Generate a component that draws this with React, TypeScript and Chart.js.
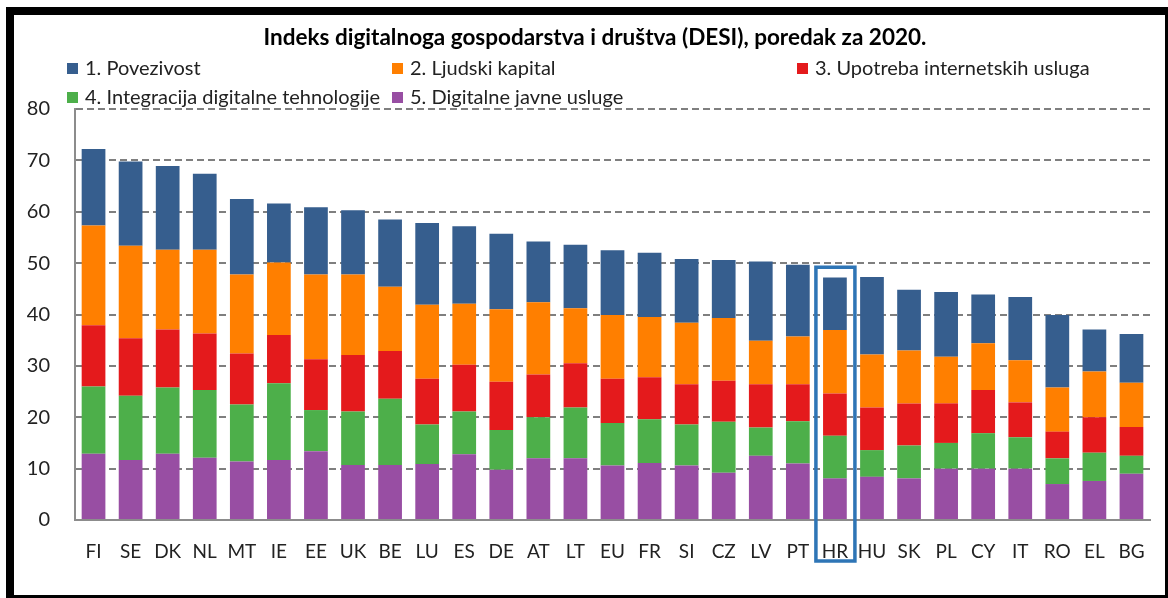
import React, { useEffect, useRef } from "react";
import { Chart, registerables } from "chart.js";

Chart.register(...registerables);

const categories = ["FI","SE","DK","NL","MT","IE","EE","UK","BE","LU","ES","DE","AT","LT","EU","FR","SI","CZ","LV","PT","HR","HU","SK","PL","CY","IT","RO","EL","BG"];

const povezivost = [14.9,16.4,16.3,14.8,14.7,11.5,13.1,12.5,13.1,15.9,15.1,14.7,11.8,12.4,12.6,12.5,12.4,11.3,15.4,14.0,10.2,15.1,11.8,12.6,9.5,12.3,14.1,8.2,9.5];
const ljudskiKapital = [19.4,18.0,15.5,16.3,15.4,14.1,16.5,15.7,12.5,14.4,11.9,14.1,14.1,10.7,12.4,11.7,12.0,12.2,8.5,9.3,12.4,10.3,10.3,9.1,9.1,8.2,8.6,8.9,8.6];
const upotreba = [11.9,11.2,11.3,11.0,9.9,9.4,9.9,11.0,9.3,8.9,9.1,9.4,8.3,8.6,8.6,8.2,7.8,8.0,8.4,7.2,8.2,8.3,8.2,7.7,8.4,6.8,5.2,6.9,5.6];
const integracija = [13.1,12.5,12.9,13.2,11.1,14.9,8.0,10.4,12.9,7.7,8.3,7.7,8.0,9.9,8.3,8.5,8.0,9.9,5.5,8.2,8.3,5.2,6.4,5.0,6.9,6.1,5.0,5.5,3.5];
const javneUsluge = [12.9,11.7,12.9,12.1,11.4,11.7,13.4,10.7,10.7,10.9,12.8,9.8,12.0,12.0,10.6,11.1,10.6,9.2,12.5,11.0,8.1,8.4,8.1,10.0,10.0,10.0,7.0,7.6,9.0];

const seriesLabels = [
  "1. Povezivost",
  "2. Ljudski kapital",
  "3. Upotreba internetskih usluga",
  "4. Integracija digitalne tehnologije",
  "5. Digitalne javne usluge",
];
const seriesColors = ["#365E8E", "#FF7F00", "#E41A1C", "#4DAF4A", "#984EA3"];

const titleText = "Indeks digitalnoga gospodarstva i društva (DESI), poredak za 2020.";
const highlightCategory = "HR";
const highlightTopValue = 49.2;

const FONT = "Lato, 'Open Sans', sans-serif";

const decorPlugin = {
  id: "decor",
  afterDraw(chart: any) {
    const ctx = chart.ctx;
    const W = chart.width;
    const H = chart.height;
    ctx.save();
    // frame
    ctx.fillStyle = "#000";
    ctx.fillRect(6, 7, W - 6, 8);
    ctx.fillRect(6, 7, 8, H - 7);
    ctx.fillRect(6, H - 3, W - 6, 3);
    ctx.fillRect(W - 3, 7, 3, H - 7);

    // title
    ctx.fillStyle = "#000";
    ctx.font = `bold 22.5px ${FONT}`;
    ctx.textAlign = "center";
    ctx.textBaseline = "middle";
    ctx.fillText(titleText, 595, 38);

    // legend
    const pos = [
      [67, 68], [392, 68], [797, 68],
      [67, 97], [392, 97],
    ];
    ctx.font = `20px ${FONT}`;
    ctx.textAlign = "left";
    seriesLabels.forEach((lab, i) => {
      const [x, y] = pos[i];
      ctx.fillStyle = seriesColors[i];
      ctx.fillRect(x, y - 5, 11, 11);
      ctx.fillStyle = "#222";
      ctx.fillText(lab, x + 18, y + 1);
    });

    // highlight box
    const xs = chart.scales.x;
    const ys = chart.scales.y;
    const idx = categories.indexOf(highlightCategory);
    const cx = xs.getPixelForValue(idx);
    const top = ys.getPixelForValue(highlightTopValue);
    const bottom = chart.chartArea.bottom + 41;
    ctx.strokeStyle = "#2E75B6";
    ctx.lineWidth = 3.5;
    ctx.strokeRect(cx - 19, top, 39, bottom - top);
    ctx.restore();
  },
};

export default function App() {
  const ref = useRef<HTMLCanvasElement | null>(null);
  useEffect(() => {
    if (!ref.current) return;
    const stackData = [javneUsluge, integracija, upotreba, ljudskiKapital, povezivost];
    const stackIdx = [4, 3, 2, 1, 0];
    const chart = new Chart(ref.current, {
      type: "bar",
      data: {
        labels: categories,
        datasets: stackData.map((d, k) => ({
          label: seriesLabels[stackIdx[k]],
          data: d,
          backgroundColor: seriesColors[stackIdx[k]],
          borderWidth: 0,
          barPercentage: 0.64,
          categoryPercentage: 1,
        })),
      },
      options: {
        responsive: false,
        animation: false,
        layout: { padding: { top: 109, right: 18, left: 0, bottom: 0 } },
        plugins: {
          legend: { display: false },
          title: { display: false },
          tooltip: { enabled: false },
        },
        scales: {
          x: {
            stacked: true,
            grid: { display: false, drawTicks: false },
            border: { display: true, color: "#8C8C8C", width: 2 },
            ticks: { color: "#222", font: { family: FONT, size: 19 }, padding: 20, maxRotation: 0, autoSkip: false },
            afterFit: (s: any) => { s.height = 78; },
          },
          y: {
            stacked: true,
            min: 0,
            max: 80,
            ticks: { stepSize: 10, color: "#222", font: { family: FONT, size: 20 }, padding: 25 },
            grid: { color: "#7F7F7F", lineWidth: 2, drawTicks: false },
            border: { display: true, color: "#8C8C8C", width: 2, dash: [7, 4] },
            afterFit: (s: any) => { s.width = 75; },
          },
        },
      },
      plugins: [decorPlugin],
    });
    return () => chart.destroy();
  }, []);
  return (
    <div style={{ position: "fixed", left: 0, top: 0, width: 1168, height: 598, background: "#fff" }}>
      <canvas ref={ref} width={1168} height={598} />
    </div>
  );
}
